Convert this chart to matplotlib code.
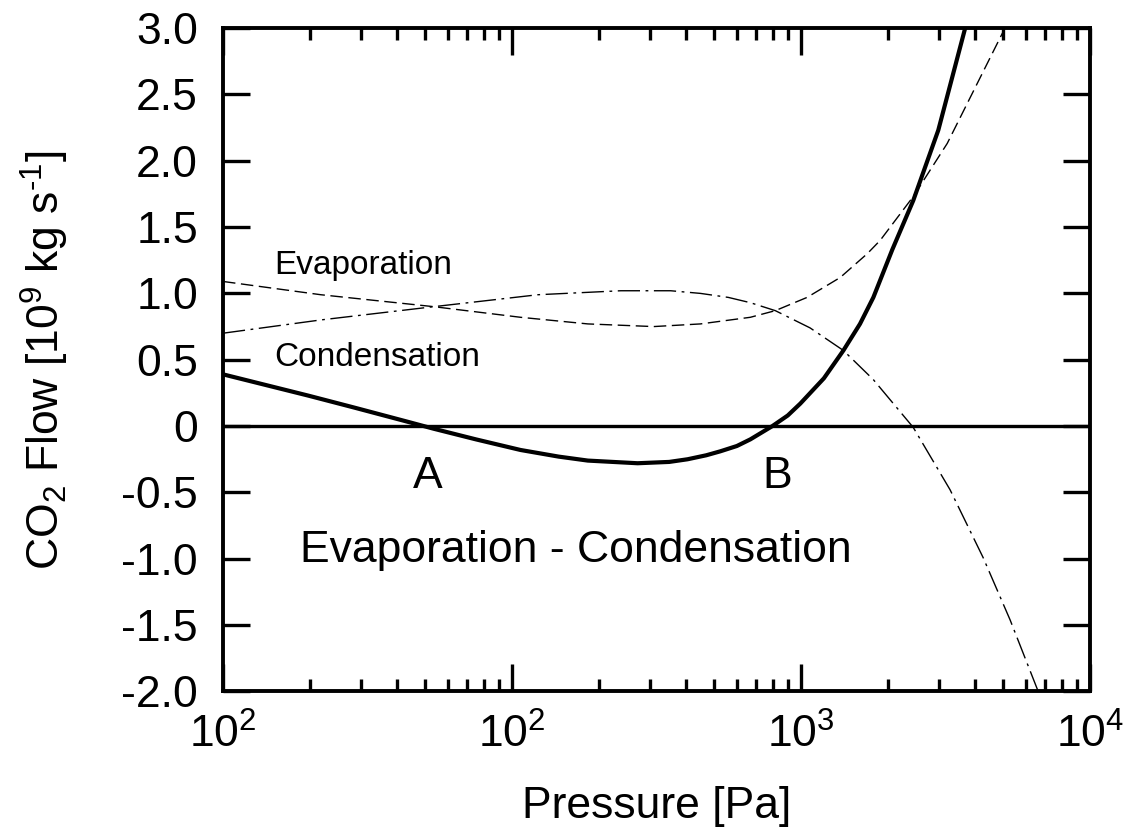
import numpy as np
import matplotlib
matplotlib.use("Agg")
import matplotlib.pyplot as plt
from matplotlib.ticker import FixedLocator, NullFormatter, LogLocator

plt.rcParams["font.family"] = ["Liberation Sans", "DejaVu Sans"]
plt.rcParams["mathtext.default"] = "regular"

# net flow (evaporation - condensation), thick solid
net_p = [10, 19.7, 28.4, 42.3, 53.6, 75, 107, 145, 183, 272, 350, 405, 470, 526,
         600, 668, 796, 900, 995, 1200, 1402, 1600, 1780, 2070, 2446, 2986, 3700]
net_f = [0.39, 0.23, 0.14, 0.04, -0.02, -0.10, -0.18, -0.23, -0.26, -0.28, -0.27,
         -0.25, -0.22, -0.19, -0.15, -0.10, 0.0, 0.08, 0.17, 0.36, 0.57, 0.77,
         0.97, 1.33, 1.70, 2.23, 3.0]

# evaporation, dashed
evap_p = [10, 21.8, 53.6, 107, 183, 309, 449, 668, 815, 1050, 1367, 1697,
          1880, 2446, 3206, 5080]
evap_f = [1.09, 0.99, 0.90, 0.82, 0.77, 0.75, 0.77, 0.82, 0.87, 0.97, 1.12,
          1.30, 1.40, 1.73, 2.13, 3.0]

# condensation, dash-dot
cond_p = [10, 21.8, 53.6, 123, 238, 354, 449, 560, 668, 815, 1075, 1402, 1780,
          2446, 3280, 4266, 5290, 6620]
cond_f = [0.70, 0.80, 0.90, 0.99, 1.02, 1.02, 1.00, 0.97, 0.93, 0.87, 0.74, 0.57,
          0.35, -0.01, -0.48, -0.99, -1.46, -2.0]

yticks = [3.0, 2.5, 2.0, 1.5, 1.0, 0.5, 0, -0.5, -1.0, -1.5, -2.0]
ytick_labels = ["3.0", "2.5", "2.0", "1.5", "1.0", "0.5", "0", "-0.5", "-1.0", "-1.5", "-2.0"]
xticks = [10, 100, 1000, 10000]
xtick_labels = ["$10^2$", "$10^2$", "$10^3$", "$10^4$"]

fig = plt.figure(figsize=(11.28, 8.34), dpi=100)
ax = fig.add_axes([0.1977, 0.1709, 0.7686, 0.7955])

ax.axhline(0, color="black", lw=2.4)
ax.plot(net_p, net_f, color="black", lw=3.0, solid_joinstyle="round")
ax.plot(evap_p, evap_f, color="black", lw=1.0, dashes=(9, 4))
ax.plot(cond_p, cond_f, color="black", lw=1.0, dashes=(16, 4, 2, 4))

ax.set_xscale("log")
ax.set_xlim(10, 10000)
ax.set_ylim(-2.0, 3.0)

ax.xaxis.set_major_locator(FixedLocator(xticks))
ax.set_xticklabels(xtick_labels)
ax.xaxis.set_minor_locator(LogLocator(base=10, subs=np.arange(2, 10)))
ax.xaxis.set_minor_formatter(NullFormatter())
ax.set_yticks(yticks)
ax.set_yticklabels(ytick_labels)

ax.tick_params(which="major", direction="in", length=19.5, width=2.4,
               top=True, right=True, labelsize=32)
ax.tick_params(axis="x", which="major", pad=16)
ax.tick_params(axis="y", which="major", pad=18)
ax.tick_params(which="minor", direction="in", length=8.5, width=2.4,
               top=True, right=True)
for s in ax.spines.values():
    s.set_linewidth(2.8)

ax.set_xlabel("Pressure [Pa]", fontsize=32)
ax.xaxis.set_label_coords(0.5, -0.142)
ax.set_ylabel("CO$_2$ Flow [10$^9$ kg s$^{\u2010 1}$]", fontsize=32)
ax.yaxis.set_label_coords(-0.175, 0.5)

ax.text(15.1, 1.21, "Evaporation", fontsize=24, ha="left", va="center")
ax.text(15.1, 0.52, "Condensation", fontsize=24, ha="left", va="center")
ax.text(51, -0.38, "A", fontsize=32, ha="center", va="center")
ax.text(830, -0.38, "B", fontsize=32, ha="center", va="center")
ax.text(166, -0.94, "Evaporation - Condensation", fontsize=32, ha="center", va="center")

fig.savefig("out.png", dpi=100)
